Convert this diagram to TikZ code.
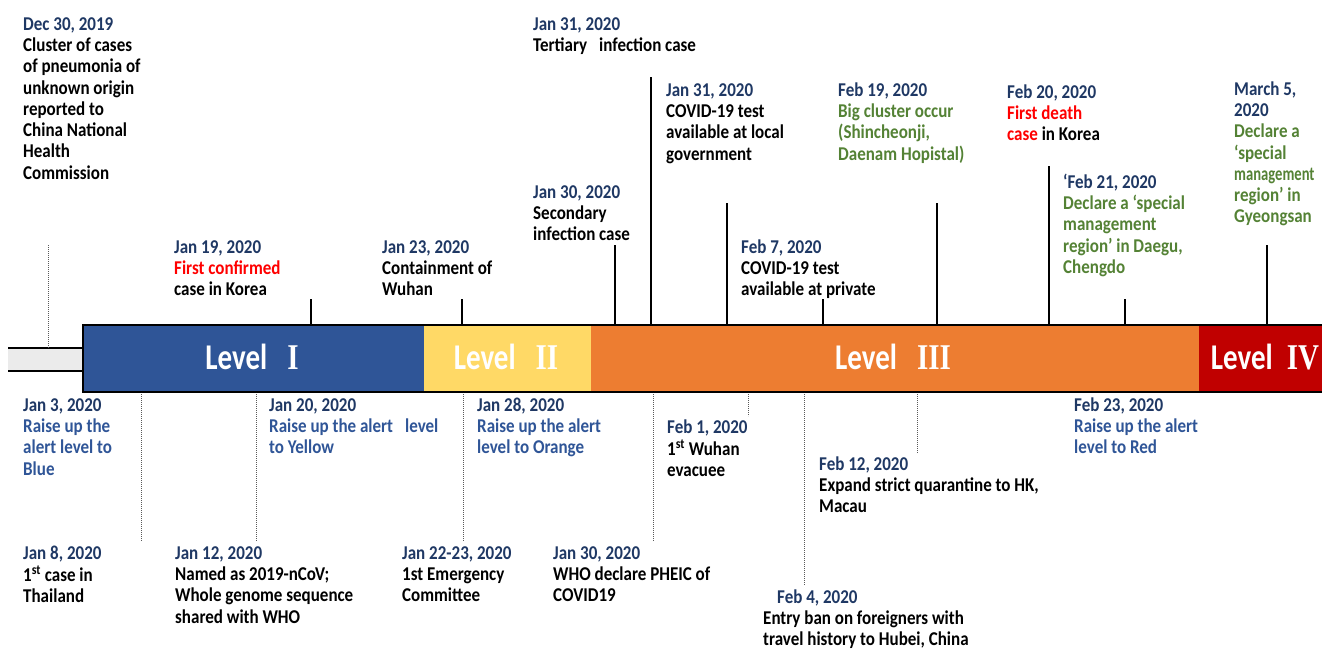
\documentclass[tikz,border=0pt]{standalone}
\usepackage{fontspec}
\usepackage{graphicx}
\setmainfont{Carlito}
\newfontfamily\romfont{Liberation Serif}
\definecolor{datec}{HTML}{1F3864}
\definecolor{bluetxt}{HTML}{2F5597}
\definecolor{grn}{HTML}{548235}
\definecolor{redtxt}{HTML}{FF0000}
\definecolor{lvblue}{HTML}{2F5597}
\definecolor{lvyellow}{HTML}{FFD966}
\definecolor{lvorange}{HTML}{ED7D31}
\definecolor{lvred}{HTML}{C00000}
\definecolor{stub}{HTML}{EBEBEB}
\newcommand\dt[1]{\textcolor{datec}{#1}}
\newcommand\bt[1]{\textcolor{bluetxt}{#1}}
\newcommand\gt[1]{\textcolor{grn}{#1}}
\newcommand\rt[1]{\textcolor{redtxt}{#1}}
\newcommand\evnode[4]{\node[evbox] (#1) at (#2,#3-14.95) {\scalebox{1}[1.15]{\begin{tabular}{@{}l@{}}#4\end{tabular}}};}
\newcommand\lvtext[2]{\scalebox{1}[1.25]{Level\hspace{#2}{\romfont #1}}}
\begin{document}
\begin{tikzpicture}[x=1pt,y=-1pt,
  evbox/.style={anchor=north west, inner sep=0pt, font=\bfseries\fontsize{17}{18.52}\selectfont},
  tickline/.style={line width=1.8pt, black},
  dotline/.style={line width=0.8pt, black!65, dash pattern=on 0.8pt off 1.2pt},
  lvl/.style={text=white, inner sep=0pt, font=\bfseries\fontsize{29}{30}\selectfont}]
\useasboundingbox (0,0) rectangle (1322,649);

% reference coordinates of the bar
\coordinate (bartop) at (0,325);
\coordinate (barbot) at (0,392);
\coordinate (stubtop) at (0,348);

% grey stub
\fill[stub] (8,348) rectangle (83,371);
\draw[line width=2.2pt] (8,348) -- (83,348);
\draw[line width=2.2pt] (8,371) -- (83,371);

% level segments
\fill[lvblue] (83,325) rectangle (424,392);
\fill[lvyellow] (424,325) rectangle (591,392);
\fill[lvorange] (591,325) rectangle (1199,392);
\fill[lvred] (1199,325) rectangle (1322,392);

% solid ticks (above bar)
\coordinate (t2) at (311,299);
\coordinate (t3) at (462,299);
\coordinate (t4) at (615,245);
\coordinate (t5) at (651,77);
\coordinate (t6) at (727,203);
\coordinate (t7) at (823,299);
\coordinate (t8) at (937,203);
\coordinate (t9) at (1049,166);
\coordinate (t10) at (1125,299);
\coordinate (t11) at (1267,245);
\foreach \c in {t2,t3,t4,t5,t6,t7,t8,t9,t10,t11}
  \draw[tickline] (\c) -- (\c |- bartop);

% dotted ticks
\coordinate (d1) at (48,245);
\draw[dotline] (d1) -- (d1 |- stubtop);
\coordinate (db1) at (141,541);
\coordinate (db2) at (256,541);
\coordinate (db3) at (463,541);
\coordinate (db4) at (653,541);
\coordinate (db5) at (748,416);
\coordinate (db6) at (804,585);
\coordinate (db7) at (917,453);
\foreach \c in {db1,db2,db3,db4,db5,db6,db7}
  \draw[dotline] (\c |- barbot) -- (\c);

% bar border
\draw[line width=2.8pt] (1322,325) -- (83,325) -- (83,392) -- (1322,392);

% level labels
\node[lvl] (L1) at (252,357) {\lvtext{I}{20pt}};
\node[lvl] (L2) at (506,357) {\lvtext{II}{20pt}};
\node[lvl] (L3) at (893,357) {\lvtext{III}{20pt}};
\node[lvl] (L4) at (1265,357) {\lvtext{IV}{14pt}};

% top events
\evnode{e1}{23}{30}{\dt{Dec 30, 2019}\\Cluster of cases\\of pneumonia of\\unknown origin\\reported to\\China National\\Health\\Commission}
\evnode{e2}{174}{253}{\dt{Jan 19, 2020}\\\rt{First confirmed}\\case in Korea}
\evnode{e3}{382}{253}{\dt{Jan 23, 2020}\\Containment of\\Wuhan}
\evnode{e4}{533}{198}{\dt{Jan 30, 2020}\\Secondary\\infection case}
\evnode{e5}{533}{30}{\dt{Jan 31, 2020}\\Tertiary\hspace{12pt}infection case}
\evnode{e6}{666}{96}{\dt{Jan 31, 2020}\\COVID-19 test\\available at local\\government}
\evnode{e7}{741}{253}{\dt{Feb 7, 2020}\\COVID-19 test\\available at private}
\evnode{e8}{838}{96}{\dt{Feb 19, 2020}\\\gt{Big cluster occur}\\\gt{(Shincheonji,}\\\gt{Daenam Hopistal)}}
\evnode{e9}{1007}{98}{\dt{Feb 20, 2020}\\\rt{First death}\\\rt{case} in Korea}
\evnode{e10}{1063}{188}{\dt{‘Feb 21, 2020}\\\gt{Declare a ‘special}\\\gt{management}\\\gt{region’ in Daegu,}\\\gt{Chengdo}}
\evnode{e11}{1234}{95}{\dt{March 5,}\\\dt{2020}\\\gt{Declare a}\\\gt{‘special}\\\gt{\scalebox{0.86}[1]{management}}\\\gt{region’ in}\\\gt{Gyeongsan}}

% bottom events
\evnode{b1}{23}{411}{\dt{Jan 3, 2020}\\\bt{Raise up the}\\\bt{alert level to}\\\bt{Blue}}
\evnode{b2}{269}{411}{\dt{Jan 20, 2020}\\\bt{Raise up the alert\hspace{12pt}level}\\\bt{to Yellow}}
\evnode{b3}{477}{411}{\dt{Jan 28, 2020}\\\bt{Raise up the alert}\\\bt{level to Orange}}
\evnode{b4}{1074}{411}{\dt{Feb 23, 2020}\\\bt{Raise up the alert}\\\bt{level to Red}}
\evnode{b5}{23}{559}{\dt{Jan 8, 2020}\\1\textsuperscript{st} case in\\Thailand}
\evnode{b6}{175}{559}{\dt{Jan 12, 2020}\\Named as 2019-nCoV;\\Whole genome sequence\\shared with WHO}
\evnode{b7}{402}{559}{\dt{Jan 22-23, 2020}\\1st Emergency\\Committee}
\evnode{b8}{553}{559}{\dt{Jan 30, 2020}\\WHO declare PHEIC of\\COVID19}
\evnode{b9}{667}{433}{\dt{Feb 1, 2020}\\1\textsuperscript{st} Wuhan\\evacuee}
\evnode{b10}{819}{470}{\dt{Feb 12, 2020}\\Expand strict quarantine to HK,\\Macau}
\evnode{b11}{763}{603}{\hspace{14pt}\dt{Feb 4, 2020}\\Entry ban on foreigners with\\travel history to Hubei, China}
\end{tikzpicture}
\end{document}
